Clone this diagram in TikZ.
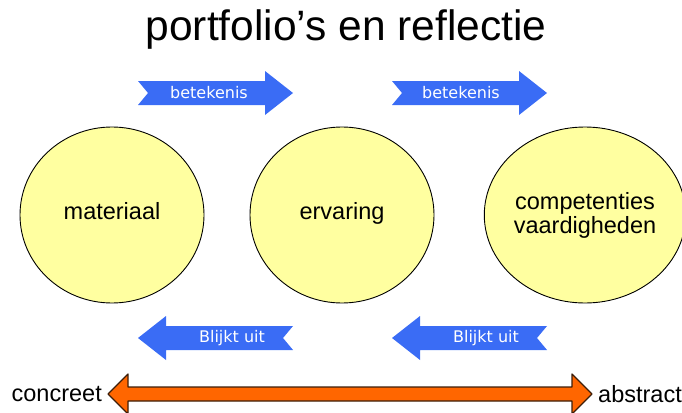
\documentclass[tikz,border=0pt]{standalone}
\usepackage{fontspec}
\setmainfont{Liberation Sans}
\newfontfamily\arrowfont{DejaVu Sans}
\usetikzlibrary{positioning,shapes.geometric}
\definecolor{arrowblue}{RGB}{58,108,245}
\definecolor{paleyellow}{RGB}{255,255,160}
\definecolor{brightorange}{RGB}{255,102,0}
\definecolor{darkbrown}{RGB}{60,30,10}

\tikzset{
  bubble/.style={ellipse, draw=black, line width=0.9pt, fill=paleyellow, minimum width=184pt, minimum height=176pt, inner sep=0pt, align=center, font=\fontsize{23.5}{24}\selectfont},
  arrowtext/.style={text=white, font=\arrowfont\fontsize{16}{17}\selectfont},
  sidelabel/.style={font=\fontsize{23.5}{25}\selectfont, inner sep=0pt},
  % blue arrow with notched tail, tip at origin, pointing right
  bluearrow/.pic={
    \fill[arrowblue] (0,0) -- (-28,-22) -- (-28,-12) -- (-155,-12) -- (-145,0) -- (-155,12) -- (-28,12) -- (-28,22) -- cycle;
  }
}

\begin{document}
\begin{tikzpicture}[x=1pt, y=-1pt, line join=round]
    \useasboundingbox (0,0) rectangle (682,412);
    
    % title
    \node (title) at (346,30) {\fontsize{42.5}{46}\selectfont portfolio’s en reflectie};
    
    % the three stages
    \node[bubble] (mat) at (112,215) {\strut materiaal};
    \node[bubble] (erv) at (342,215) {\strut ervaring};
    \node[bubble] (comp) at (585,215) {competenties\\vaardigheden};
    
    % arrows above
    \pic at (293,93) {bluearrow};
    \pic at (547,93) {bluearrow};
    \node[arrowtext] (bet1) at (209,93) {betekenis};
    \node[arrowtext] (bet2) at (461,93) {betekenis};
    
    % arrows below
    \pic[xscale=-1] at (138,338) {bluearrow};
    \pic[xscale=-1] at (392,338) {bluearrow};
    \node[arrowtext] (bl1) at (232,338) {Blijkt uit};
    \node[arrowtext] (bl2) at (486,338) {Blijkt uit};
    
    % concreet -- abstract
    \node[sidelabel, anchor=east] (conc) at (102,394) {concreet};
    \node[sidelabel, anchor=west] (abst) at (598,394) {abstract};
    \draw[darkbrown, line width=1.2pt, fill=brightorange] (108,394) -- (128,374) -- (128,387) -- (572,387) -- (572,374) -- (592,394) -- (572,414) -- (572,401) -- (128,401) -- (128,414) -- cycle;
    
\end{tikzpicture}
\end{document}
